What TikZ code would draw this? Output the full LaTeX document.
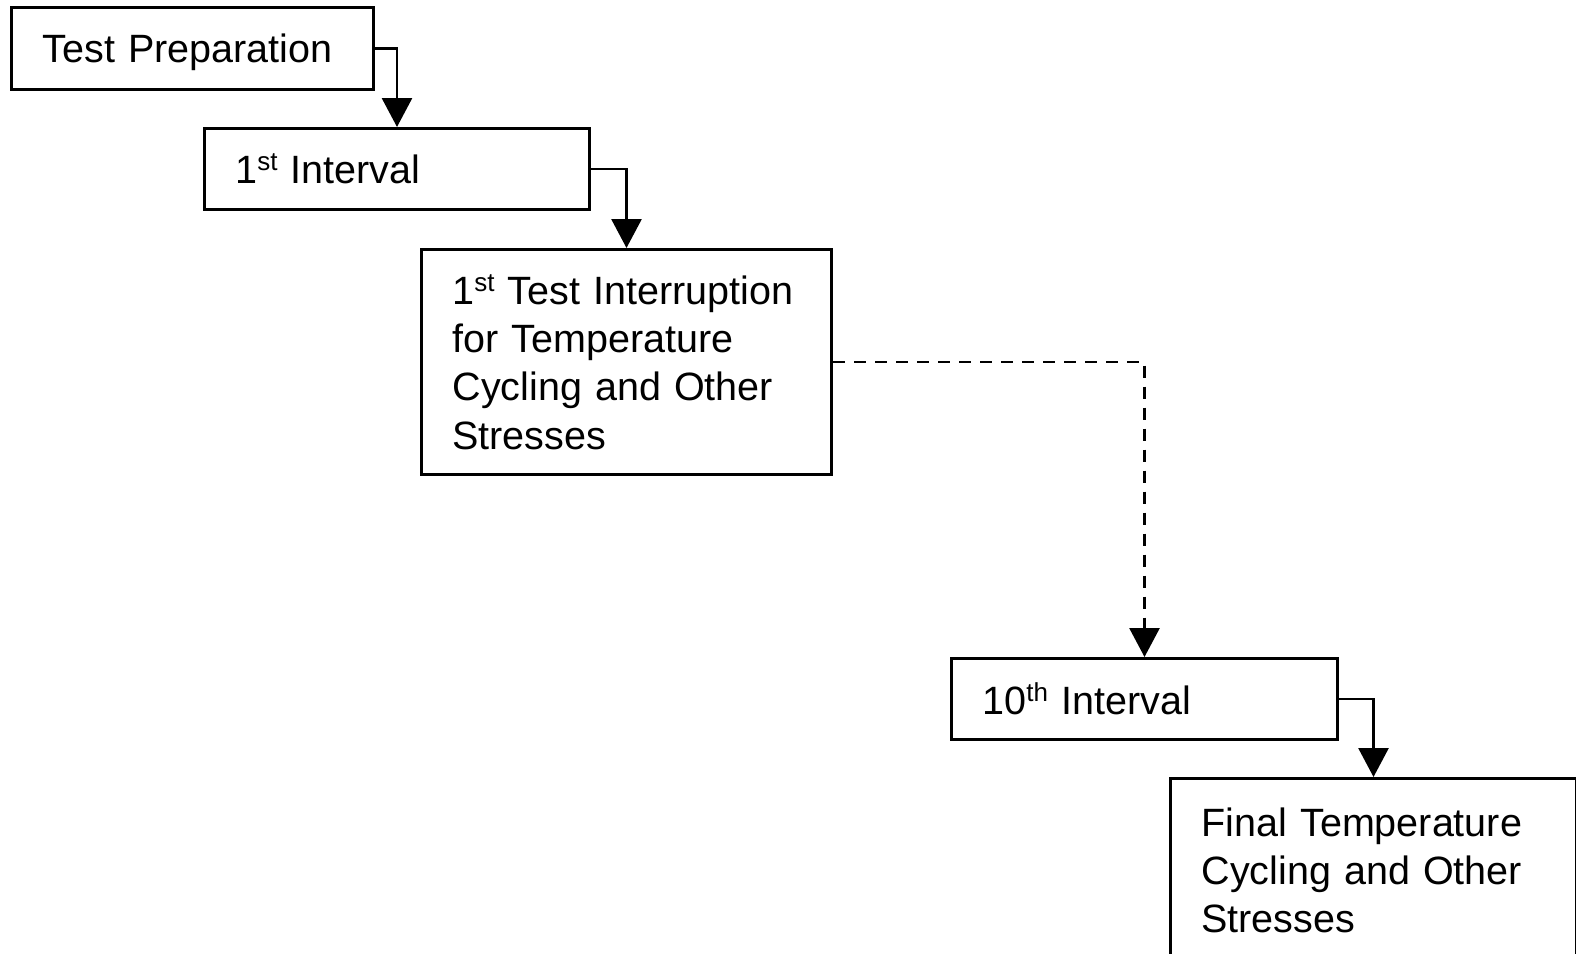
\documentclass[tikz,border=0pt]{standalone}
\usepackage{fontspec}
\setmainfont{Liberation Sans}
\usetikzlibrary{arrows.meta}

% ordinal suffix, set small and raised
\newcommand{\ordsuf}[1]{\raisebox{13pt}{\fontsize{26pt}{26pt}\selectfont #1}}

\begin{document}
\begin{tikzpicture}[x=1pt, y=-1pt,
  stage/.style={draw, line width=3pt, rectangle, anchor=north west,
    inner xsep=31pt, inner ysep=0pt, align=left,
    font=\fontsize{39.5pt}{48.3pt}\selectfont},
  flow/.style={line width=2.8pt, -{Triangle[width=30pt, length=29pt]}},
  skip/.style={flow, dash pattern=on 12pt off 9pt}
]
  \useasboundingbox (0,0) rectangle (1576,953);
  \clip (0,0) rectangle (1576,953);

  \node[stage, text width=300pt, minimum height=82pt, text depth=0pt] (prep) at (10,6)
    {Test Preparation};
  \node[stage, text width=323pt, minimum height=81pt] (int1) at (203,127)
    {1\ordsuf{st} Interval};
  \node[stage, text width=348pt, minimum height=225pt] (stress1) at (420,248)
    {1\ordsuf{st} Test Interruption\\for Temperature\\Cycling and Other\\Stresses};
  \node[stage, text width=324pt, minimum height=81pt] (int10) at (950,657)
    {10\ordsuf{th} Interval};
  \node[stage, text width=344pt, minimum height=184pt] (final) at (1169,777)
    {Final Temperature\\Cycling and Other\\Stresses};

  \draw[flow] (prep.east) -| (int1.north);
  \draw[flow] (int1.east) -| (stress1.north);
  \draw[skip] (stress1.east) -| (int10.north);
  \draw[flow] (int10.east) -| (final.north);
\end{tikzpicture}
\end{document}
